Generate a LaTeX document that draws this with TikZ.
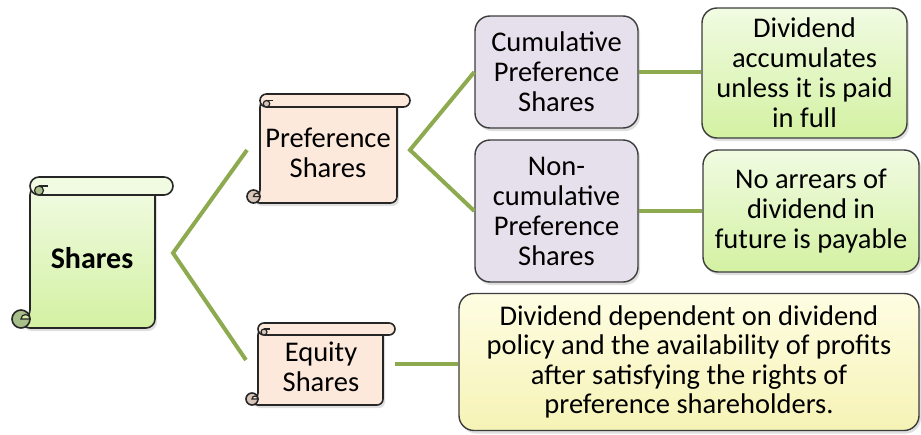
\documentclass[tikz,border=0pt]{standalone}
\usepackage{fontspec}
\setmainfont{Carlito}
\usetikzlibrary{shadows}
\definecolor{linkgreen}{HTML}{8DAA4E}
\definecolor{edgegray}{HTML}{3C3C3C}
\definecolor{lav}{HTML}{E6E0EC}
\definecolor{gtop}{HTML}{F1FBE2}
\definecolor{gbot}{HTML}{D3F1A2}
\definecolor{ytop}{HTML}{FEFDE2}
\definecolor{ybot}{HTML}{F6F3B6}
\definecolor{peach}{HTML}{FDE9DC}
\definecolor{gcurl}{HTML}{A9BF8A}
\definecolor{pcurl}{HTML}{D8C6BA}
\tikzset{
  scrollline/.style={draw=black!85, line width=1.6pt},
  txt/.style={font=\fontsize{28.5}{30}\selectfont, align=center, text=black, inner sep=0pt},
  lbox/.style={txt, draw=edgegray, line width=1.4pt, rounded corners=15pt,
     drop shadow={opacity=0.25, shadow xshift=2pt, shadow yshift=-3pt}},
  conn/.style={draw=linkgreen, line width=4pt},
  shadowed/.style={drop shadow={opacity=0.25, shadow xshift=2pt, shadow yshift=-3pt}}
}
% #1 x0, #2 y0, #3 x1, #4 y1, #5 d, #6 top color, #7 bottom color, #8 curl color
\newcommand\scrollshape[8]{%
  \pgfmathsetmacro\Xa{#1}\pgfmathsetmacro\Ya{#2}%
  \pgfmathsetmacro\Xb{#3}\pgfmathsetmacro\Yb{#4}%
  \pgfmathsetmacro\D{#5}\pgfmathsetmacro\R{#5/2}%
  \path[scrollline, top color=#6, bottom color=#7, shadowed, rounded corners=\R pt]
    (\Xa+\D,\Ya+\R) -- (\Xa+\D,\Yb-\R) -- (\Xa+\R,\Yb-\R) -- (\Xa+\R,\Yb)
    -- (\Xb-\D,\Yb) -- (\Xb-\D,\Ya+\R) -- cycle;
  \path[scrollline, fill=#6, rounded corners=\R pt]
    (\Xa+\D,\Ya) rectangle (\Xb,\Ya+\D);
  \path[scrollline, fill=#8, line width=1.2pt] (\Xa+\D+\R,\Ya+1.5*\R) circle[radius=\R/2];
  \draw[black!85, line width=1.2pt] (\Xa+\D+\R,\Ya+\R) -- (\Xa+\D+\D,\Ya+\R);
  \path[scrollline, fill=#8] (\Xa+\R,\Yb-\R) circle[radius=\R];
  \path[scrollline, fill=#7, line width=1.2pt] (\Xa+\R,\Yb-\R)
    arc[start angle=180, end angle=360, radius=\R/2] -- cycle;
}
\begin{document}
\begin{tikzpicture}[x=1pt, y=-1pt]
\useasboundingbox[fill=white] (0,0) rectangle (921,434);

% scrolls
\scrollshape{12}{177}{173}{328}{18}{gtop}{gbot}{gcurl}
\scrollshape{247}{94}{410}{203}{13}{peach}{peach}{pcurl}
\scrollshape{246}{323}{395}{405}{12}{peach}{peach}{pcurl}

\node[txt, font=\fontsize{30}{32}\selectfont\bfseries] (shares) at (92,258) {Shares};
\node[txt] (pref) at (328,153) {Preference\\Shares};
\node[txt] (equity) at (321,367) {Equity\\Shares};

\coordinate (sharesR) at (173,253);
\coordinate (prefL) at (247,150);
\coordinate (equityL) at (246,360);
\coordinate (prefR) at (410,150);
\coordinate (equityR) at (395,364);

% boxes
\node[lbox, fill=lav, minimum width=163pt, minimum height=112pt] (cum) at (556.5,72)
  {Cumulative\\Preference\\Shares};
\node[lbox, fill=lav, minimum width=163pt, minimum height=142pt] (noncum) at (556.5,211)
  {Non-\\cumulative\\Preference\\Shares};
\node[lbox, top color=gtop, bottom color=gbot, minimum width=205pt, minimum height=130pt] (div) at (804.5,73)
  {Dividend\\accumulates\\unless it is paid\\in full};
\node[lbox, top color=gtop, bottom color=gbot, minimum width=216pt, minimum height=122pt] (noarr) at (811,211)
  {No arrears of\\dividend in\\future is payable};
\node[lbox, top color=ytop, bottom color=ybot, minimum width=460pt, minimum height=137pt,
      font=\fontsize{28.5}{29.5}\selectfont] (eqdesc) at (689,362)
  {Dividend dependent on dividend\\policy and the availability of profits\\after satisfying the rights of\\preference shareholders.};

% connectors
\draw[conn] (prefL) -- (sharesR) -- (equityL);
\draw[conn] (cum.west) -- (prefR) -- (noncum.west);
\draw[conn] (cum.east) -- (div.west |- cum.east);
\draw[conn] (noncum.east) -- (noarr.west |- noncum.east);
\draw[conn] (equityR) -- (eqdesc.west |- equityR);
\end{tikzpicture}
\end{document}
